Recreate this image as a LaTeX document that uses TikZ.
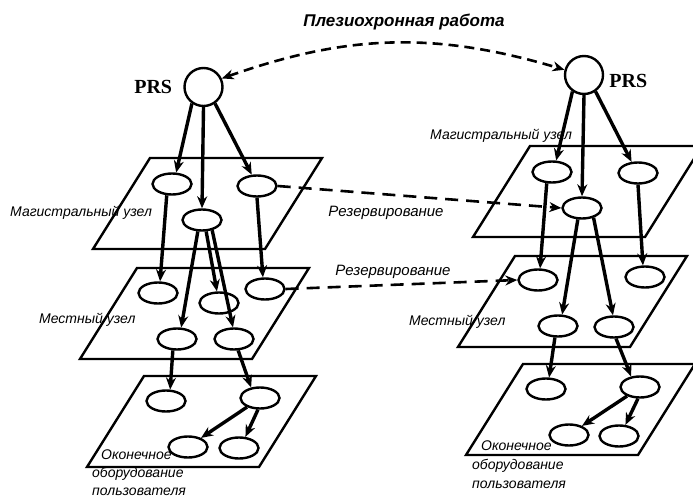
\documentclass[tikz,border=0pt]{standalone}
\usepackage{fontspec}
\setmainfont{Liberation Sans}
\newfontfamily\shriftPRS{Liberation Serif}
\usetikzlibrary{arrows.meta,positioning,shapes.geometric}

\begin{document}
\begin{tikzpicture}[x=1pt,y=-1pt,
    uzel/.style={draw,ellipse,line width=2.4pt,minimum width=39pt,
                 minimum height=21pt,inner sep=0pt},
    prs/.style={draw,circle,line width=2.4pt,minimum size=38pt,inner sep=0pt},
    plos/.style={line width=2.4pt,line join=miter},
    strelka/.style={->,line width=3.4pt},
    rezerv/.style={->,line width=2.6pt,dash pattern=on 13pt off 8pt},
    podpis/.style={font=\fontsize{14}{19}\selectfont\itshape,inner sep=0pt,
                   align=left},
    >={Stealth[length=12pt,width=10pt]}]
  \useasboundingbox (0,0) rectangle (693,500);

  % три уровня сети слева и справа
  \foreach \x/\y in {150/158,137/268,144/376,530/146,515/256,523/364}
    \draw[plos] (\x,\y) -- ++(172,0) -- ++(-57,91) -- ++(-172,0) -- cycle;

  \node[prs] (prsL) at (203.5,87) {};
  \node[prs] (prsR) at (584,75) {};
  \node[font=\fontsize{20}{24}\selectfont\shriftPRS\bfseries,inner sep=0pt,
        left=11pt of prsL] (prsLt) {PRS};
  \node[font=\fontsize{20}{24}\selectfont\shriftPRS\bfseries,inner sep=0pt,
        right=5pt of prsR,yshift=-6pt] (prsRt) {PRS};

  % магистральные, местные и оконечные узлы
  \node[uzel] (m1) at (172,184) {};
  \node[uzel] (m2) at (257,186) {};
  \node[uzel] (m3) at (202,220) {};
  \node[uzel] (l1) at (158,293) {};
  \node[uzel] (l2) at (219,303) {};
  \node[uzel] (l3) at (265,289) {};
  \node[uzel] (l4) at (177,339) {};
  \node[uzel] (l5) at (234,339) {};
  \node[uzel] (n1) at (166,401) {};
  \node[uzel] (n2) at (260,398) {};
  \node[uzel] (n3) at (188,447) {};
  \node[uzel] (n4) at (239,448) {};

  \node[uzel] (o1) at (552,172) {};
  \node[uzel] (o2) at (638,173) {};
  \node[uzel] (o3) at (582,208) {};
  \node[uzel] (p1) at (538,280) {};
  \node[uzel] (p2) at (645,277) {};
  \node[uzel] (p3) at (558,326) {};
  \node[uzel] (p4) at (614,327) {};
  \node[uzel] (q1) at (546,389) {};
  \node[uzel] (q2) at (640,387) {};
  \node[uzel] (q3) at (569,435) {};
  \node[uzel] (q4) at (619,436) {};

  \foreach \a/\b in {prsL.-125/m1.70,prsL.south/m3.north,prsL.-55/m2.115,
      m1.-115/l1.80,m2.south/l3.100,m3.-110/l4.70,m3.-70/l2.100,m3.-45/l5.95,
      l4.-110/n1.70,l5.-70/n2.130,n2.-145/n3.35,n2.-100/n4.60,
      prsR.-125/o1.70,prsR.south/o3.north,prsR.-55/o2.120,
      o1.-115/p1.80,o2.south/p2.100,o3.-110/p3.70,o3.-40/p4.95,
      p3.-105/q1.75,p4.-80/q2.130,q2.-145/q3.35,q2.-100/q4.60}
    \draw[strelka] (\a) -- (\b);

  % резервирование и синхронизация
  \draw[rezerv] (m2.east) -- (o3.west);
  \draw[rezerv] (l3.east) -- (p1.west);
  \draw[rezerv,<->,dash pattern=on 10pt off 6pt] (prsL.25) to[bend left=18] (prsR.165);

  \node[font=\fontsize{17}{20}\selectfont\bfseries\itshape,inner sep=0pt]
    (titul) at (404,22) {Плезиохронная работа};
  \node[podpis,font=\fontsize{15}{18}\selectfont\itshape] (rez1) at (386,213) {Резервирование};
  \node[podpis,font=\fontsize{15}{18}\selectfont\itshape] (rez2) at (393,272) {Резервирование};

  \node[podpis,anchor=west] (magL) at (10,213) {Магистральный узел};
  \node[podpis,anchor=west] (mesL) at (39,320) {Местный узел};
  \node[podpis,font=\fontsize{14}{18}\selectfont\itshape,anchor=north west]
    (okL) at (92,450) {\hspace*{9pt}Оконечное\\оборудование\\пользователя};
  \node[podpis,anchor=west] (magR) at (430,136) {Магистральный узел};
  \node[podpis,anchor=west] (mesR) at (409,322) {Местный узел};
  \node[podpis,anchor=north west] (okR) at (472,441)
    {\hspace*{9pt}Оконечное\\оборудование\\пользователя};
\end{tikzpicture}
\end{document}
